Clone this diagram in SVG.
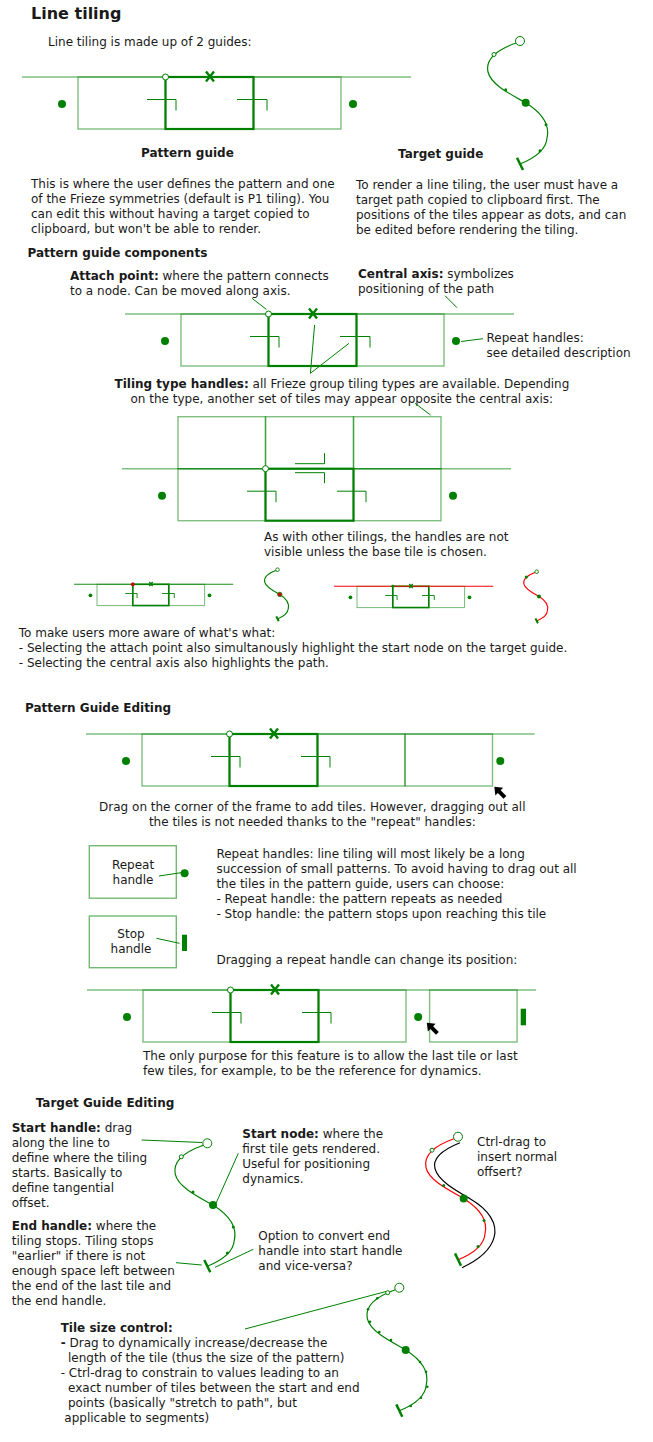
<svg xmlns="http://www.w3.org/2000/svg" xmlns:xlink="http://www.w3.org/1999/xlink" width="653" height="1442" viewBox="0 0 653 1442">
<style>
text{font-family:"DejaVu Sans","Liberation Sans",sans-serif;font-size:12px;fill:#1a1a1a}
.b{font-weight:bold}
.h1{font-size:16px;font-weight:bold}
.ax,.lt{fill:none;stroke:#008000;stroke-opacity:.5;stroke-width:1.4}
.mt{fill:none;stroke:#008000;stroke-width:2.2}
.hd{fill:none;stroke:#008000;stroke-width:1}
.dot{fill:#008000}
.ap{fill:#fff;stroke:#008000;stroke-width:1}
.xm{fill:none;stroke:#008000;stroke-width:2.4}
.tp{fill:none;stroke:#008000;stroke-width:1.2}
.eh{stroke:#008000;stroke-width:2.5}
.sc{fill:#fff;stroke:#008000;stroke-width:1}
.ld{fill:none;stroke:#008000;stroke-width:1}
.box{fill:#fff;stroke:#008000;stroke-opacity:.55;stroke-width:1.4}
.sm .ax,.sm .lt{stroke-width:2.6}
.sm .mt{stroke-width:4}
.sm .hd{stroke-width:2.2}
.sm .xm{stroke-width:3.5}
.sm .tp{stroke-width:2.8}
.sm .eh{stroke-width:5}
.sm .ap,.sm .sc{stroke-width:2.2}
</style>

<!-- Title and intro -->
<text class="h1" x="31" y="19">Line tiling</text>
<text x="48" y="46">Line tiling is made up of 2 guides:</text>

<!-- Pattern guide 1 -->
<g id="pattern-guide">
<line class="ax" x1="22" y1="77" x2="411" y2="77"/>
<rect class="lt" x="78" y="77" width="87.5" height="52"/>
<rect class="lt" x="253.5" y="77" width="87.5" height="52"/>
<rect class="mt" x="165.5" y="77" width="88" height="52"/>
<path class="hd" d="M147,99.5H176V110.5M237,99.5H267V110.5"/>
<circle class="dot" cx="62" cy="104" r="4"/>
<circle class="dot" cx="353" cy="104" r="4"/>
<circle class="ap" cx="165.5" cy="77" r="3"/>
<path class="xm" d="M206,71.5L214,81.5M214,71.5L206,81.5"/>
</g>

<!-- Target guide 1 -->
<g id="target-guide">
<path class="tp" d="M516,43 C499,49 485,58 488,72 C491,85 512,95 526,103 C542,113 550,125 547,138 C546,150 535,158 520,164"/>
<circle class="sc" cx="520" cy="41" r="4.5"/>
<circle class="sc" cx="494" cy="54.5" r="2"/>
<circle class="dot" cx="505.7" cy="89.7" r="1.5"/>
<circle class="dot" cx="525.7" cy="102.7" r="4"/>
<circle class="dot" cx="546" cy="124.7" r="1.5"/>
<circle class="dot" cx="540" cy="150.7" r="1.5"/>
<line class="eh" x1="517" y1="157.7" x2="523" y2="170"/>
</g>

<text class="b" x="141" y="157">Pattern guide</text>
<text class="b" x="398" y="158">Target guide</text>

<g id="text-pattern">
<text x="31" y="188">This is where the user defines the pattern and one</text>
<text x="31" y="203">of the Frieze symmetries (default is P1 tiling). You</text>
<text x="31" y="218">can edit this without having a target copied to</text>
<text x="31" y="233">clipboard, but won't be able to render.</text>
</g>
<g id="text-target">
<text x="356" y="189">To render a line tiling, the user must have a</text>
<text x="356" y="204">target path copied to clipboard first. The</text>
<text x="356" y="219">positions of the tiles appear as dots, and can</text>
<text x="356" y="234">be edited before rendering the tiling.</text>
</g>

<!-- Pattern guide components -->
<text class="b" x="27.5" y="257">Pattern guide components</text>
<text x="70" y="280"><tspan class="b">Attach point:</tspan> where the pattern connects</text>
<text x="70" y="295">to a node. Can be moved along axis.</text>
<text x="358" y="278"><tspan class="b">Central axis:</tspan> symbolizes</text>
<text x="358" y="293">positioning of the path</text>
<text x="486.5" y="342">Repeat handles:</text>
<text x="486.5" y="357">see detailed description</text>

<g id="pattern-components" transform="translate(103,237)">
<line class="ax" x1="22" y1="77" x2="411" y2="77"/>
<rect class="lt" x="78" y="77" width="87.5" height="52"/>
<rect class="lt" x="253.5" y="77" width="87.5" height="52"/>
<rect class="mt" x="165.5" y="77" width="88" height="52"/>
<path class="hd" d="M147,99.5H176V110.5M237,99.5H267V110.5"/>
<circle class="dot" cx="62" cy="104" r="4"/>
<circle class="dot" cx="353" cy="104" r="4"/>
<circle class="ap" cx="165.5" cy="77" r="3"/>
<path class="xm" d="M206,71.5L214,81.5M214,71.5L206,81.5"/>
</g>

<text x="114.5" y="388"><tspan class="b">Tiling type handles:</tspan> all Frieze group tiling types are available. Depending</text>
<text x="130.5" y="403">on the type, another set of tiles may appear opposite the central axis:</text>

<!-- Frieze -->
<g id="frieze" transform="translate(100,391.7)">
<rect class="lt" x="78" y="25" width="87.5" height="52"/>
<rect class="lt" x="165.5" y="25" width="88" height="52"/>
<rect class="lt" x="253.5" y="25" width="87.5" height="52"/>
<line class="ax" x1="22" y1="77" x2="411" y2="77"/>
<rect class="lt" x="78" y="77" width="87.5" height="52"/>
<rect class="lt" x="253.5" y="77" width="87.5" height="52"/>
<rect class="mt" x="165.5" y="77" width="88" height="52"/>
<path class="hd" d="M147,99.5H176V110.5M237,99.5H266V110.5"/>
<path class="hd" d="M195,72H224.5V61.5M195,81H224.5V91.5"/>
<circle class="dot" cx="62" cy="104" r="4"/>
<circle class="dot" cx="353" cy="104" r="4"/>
<circle class="ap" cx="165.5" cy="77" r="3"/>
</g>

<text x="264" y="540.5">As with other tilings, the handles are not</text>
<text x="264" y="555.5">visible unless the base tile is chosen.</text>

<!-- Small highlight diagrams -->
<g id="small-pattern-1" class="sm" transform="translate(65.1,552.8) scale(0.409)">
<line class="ax" x1="22" y1="77" x2="411" y2="77" style="stroke-opacity:.9"/>
<rect class="lt" x="78" y="77" width="87.5" height="52"/>
<rect class="lt" x="253.5" y="77" width="87.5" height="52"/>
<rect class="mt" x="165.5" y="77" width="88" height="52"/>
<path class="hd" d="M147,99.5H176V110.5M237,99.5H267V110.5"/>
<circle class="dot" cx="62" cy="104" r="4.5"/>
<circle class="dot" cx="353" cy="104" r="4.5"/>
<circle cx="165.5" cy="77" r="4" fill="#e00000" stroke="#a00000" stroke-width="1.5"/>
<path class="xm" d="M206,71.5L214,81.5M214,71.5L206,81.5"/>
</g>
<g id="small-target-1" class="sm" transform="translate(69.5,553.3) scale(0.4)">
<path class="tp" d="M516,43 C499,49 485,58 488,72 C491,85 512,95 526,103 C542,113 550,125 547,138 C546,150 535,158 520,164"/>
<circle class="sc" cx="520" cy="41" r="4.5"/>
<circle cx="525.7" cy="102.7" r="5.5" fill="#e00000" stroke="#008000" stroke-width="2"/>
<line class="eh" x1="517" y1="157.7" x2="523" y2="170"/>
</g>
<g id="small-pattern-2" class="sm" transform="translate(325.1,554.8) scale(0.409)">
<rect class="lt" x="78" y="77" width="87.5" height="52"/>
<rect class="lt" x="253.5" y="77" width="87.5" height="52"/>
<rect class="mt" x="165.5" y="77" width="88" height="52"/>
<line x1="22" y1="77" x2="411" y2="77" stroke="#ff0000" stroke-width="2.6"/>
<path class="hd" d="M147,99.5H176V110.5M237,99.5H267V110.5"/>
<circle class="dot" cx="62" cy="104" r="4.5"/>
<circle class="dot" cx="353" cy="104" r="4.5"/>
<circle class="dot" cx="165.5" cy="77" r="3.5"/>
<path class="xm" d="M206,71.5L214,81.5M214,71.5L206,81.5"/>
</g>
<g id="small-target-2" class="sm" transform="translate(328.7,555.3) scale(0.4)">
<path class="tp" style="stroke:#ff0000" d="M516,43 C499,49 485,58 488,72 C491,85 512,95 526,103 C542,113 550,125 547,138 C546,150 535,158 520,164"/>
<circle class="sc" cx="520" cy="41" r="4.5"/>
<circle class="dot" cx="494" cy="54.5" r="4"/>
<circle class="dot" cx="525.7" cy="102.7" r="5"/>
<line class="eh" x1="517" y1="157.7" x2="523" y2="170"/>
</g>

<text x="18.75" y="636.5">To make users more aware of what's what:</text>
<text x="18.75" y="651.5">- Selecting the attach point also simultanously highlight the start node on the target guide.</text>
<text x="18.75" y="666.5">- Selecting the central axis also highlights the path.</text>

<!-- Pattern Guide Editing -->
<text class="b" x="25" y="712">Pattern Guide Editing</text>
<g id="editing-1" transform="translate(64,657)">
<line class="ax" x1="22" y1="77" x2="470.7" y2="77"/>
<rect class="lt" x="78" y="77" width="87.5" height="52"/>
<rect class="lt" x="253.5" y="77" width="87.5" height="52"/>
<rect class="lt" x="341" y="77" width="87.5" height="52"/>
<rect class="mt" x="165.5" y="77" width="88" height="52"/>
<path class="hd" d="M147,99.5H176V110.5M237,99.5H266V110.5"/>
<circle class="dot" cx="62" cy="104" r="4"/>
<circle class="dot" cx="436.3" cy="104" r="4"/>
<circle class="ap" cx="165.5" cy="77" r="3"/>
<path class="xm" d="M206,71.5L214,81.5M214,71.5L206,81.5"/>
</g>
<path id="cursor-1" d="M0,0 L5.5,7 L2,7 L2,15 L-2,15 L-2,7 L-5.5,7 Z" fill="#000" transform="translate(494.3,786.7) rotate(-45)"/>

<text x="312.3" y="811" text-anchor="middle">Drag on the corner of the frame to add tiles. However, dragging out all</text>
<text x="312.3" y="826" text-anchor="middle">the tiles is not needed thanks to the "repeat" handles:</text>

<g id="repeat-box">
<rect class="box" x="89.3" y="845.7" width="87" height="52.5"/>
<text x="133" y="868.5" text-anchor="middle">Repeat</text>
<text x="133" y="883.5" text-anchor="middle">handle</text>
<circle class="dot" cx="184.6" cy="873.3" r="4"/>
</g>
<g id="stop-box">
<rect class="box" x="89.3" y="916" width="87" height="51.7"/>
<text x="131" y="938" text-anchor="middle">Stop</text>
<text x="131" y="953" text-anchor="middle">handle</text>
<rect class="dot" x="182" y="934.7" width="5" height="16.3"/>
</g>

<g id="text-repeat">
<text x="216.4" y="858">Repeat handles: line tiling will most likely be a long</text>
<text x="216.4" y="873">succession of small patterns. To avoid having to drag out all</text>
<text x="216.4" y="888">the tiles in the pattern guide, users can choose:</text>
<text x="216.4" y="903">- Repeat handle: the pattern repeats as needed</text>
<text x="216.4" y="918">- Stop handle: the pattern stops upon reaching this tile</text>
<text x="216.4" y="963.5">Dragging a repeat handle can change its position:</text>
</g>

<g id="editing-2" transform="translate(65,913)">
<line class="ax" x1="22" y1="77" x2="471" y2="77"/>
<rect class="lt" x="78" y="77" width="87.5" height="52"/>
<rect class="lt" x="253.5" y="77" width="87.5" height="52"/>
<rect class="mt" x="165.5" y="77" width="88" height="52"/>
<rect class="lt" x="364.6" y="77" width="87.5" height="52"/>
<path class="hd" d="M147,99.5H176V110.5M237,99.5H266V110.5"/>
<circle class="dot" cx="62" cy="104" r="4"/>
<circle class="dot" cx="353.2" cy="104" r="4"/>
<rect class="dot" x="455.7" y="95.7" width="5.3" height="16.6"/>
<circle class="ap" cx="165.5" cy="77" r="3"/>
<path class="xm" d="M206,71.5L214,81.5M214,71.5L206,81.5"/>
</g>
<path id="cursor-2" d="M0,0 L5.5,7 L2,7 L2,15 L-2,15 L-2,7 L-5.5,7 Z" fill="#000" transform="translate(426.8,1022.7) rotate(-45)"/>

<text x="143" y="1059.5">The only purpose for this feature is to allow the last tile or last</text>
<text x="143" y="1074.5">few tiles, for example, to be the reference for dynamics.</text>

<!-- Target Guide Editing -->
<text class="b" x="35.7" y="1107">Target Guide Editing</text>
<g id="text-start-handle">
<text x="11.7" y="1132"><tspan class="b">Start handle:</tspan> drag</text>
<text x="11.7" y="1147">along the line to</text>
<text x="11.7" y="1162">define where the tiling</text>
<text x="11.7" y="1177">starts. Basically to</text>
<text x="11.7" y="1192">define tangential</text>
<text x="11.7" y="1207">offset.</text>
</g>
<g id="text-end-handle">
<text x="11.7" y="1229.5"><tspan class="b">End handle:</tspan> where the</text>
<text x="11.7" y="1244.5">tiling stops. Tiling stops</text>
<text x="11.7" y="1259.5">"earlier" if there is not</text>
<text x="11.7" y="1274.5">enough space left between</text>
<text x="11.7" y="1289.5">the end of the last tile and</text>
<text x="11.7" y="1304.5">the end handle.</text>
</g>
<g id="text-start-node">
<text x="242.3" y="1138"><tspan class="b">Start node:</tspan> where the</text>
<text x="242.3" y="1153">first tile gets rendered.</text>
<text x="242.3" y="1168">Useful for positioning</text>
<text x="242.3" y="1183">dynamics.</text>
</g>
<g id="text-option">
<text x="258.3" y="1239.5">Option to convert end</text>
<text x="258.3" y="1254.5">handle into start handle</text>
<text x="258.3" y="1269.5">and vice-versa?</text>
</g>
<g id="text-ctrl">
<text x="477" y="1146">Ctrl-drag to</text>
<text x="477" y="1161">insert normal</text>
<text x="477" y="1176">offsert?</text>
</g>

<g id="target-edit" transform="translate(-312.7,1102.3)">
<path class="tp" d="M516,43 C499,49 485,58 488,72 C491,85 512,95 526,103 C542,113 550,125 547,138 C546,150 535,158 520,164"/>
<circle class="sc" cx="520" cy="41" r="4.5"/>
<circle class="sc" cx="494" cy="54.5" r="2"/>
<circle class="dot" cx="505.7" cy="89.7" r="1.5"/>
<circle class="dot" cx="525.7" cy="102.7" r="4"/>
<circle class="dot" cx="546" cy="124.7" r="1.5"/>
<circle class="dot" cx="540" cy="150.7" r="1.5"/>
<line class="eh" x1="517" y1="157.7" x2="523" y2="170"/>
</g>

<g id="target-offset" transform="translate(-62,1095.7)">
<path fill="none" stroke="#000" stroke-width="1.2" d="M522,47 C507,53 494,62 497,73 C500,85 518,95 532,103 C551,114 560,128 556,142 C552,156 537,166 524,172"/>
<path class="tp" style="stroke:#ff0000" d="M516,43 C499,49 485,58 488,72 C491,85 512,95 526,103 C542,113 550,125 547,138 C546,150 535,158 520,164"/>
<circle class="sc" cx="520" cy="41" r="4.5"/>
<circle class="sc" cx="494" cy="54.5" r="2"/>
<circle class="dot" cx="505.7" cy="89.7" r="1.5"/>
<circle class="dot" cx="525.7" cy="102.7" r="4"/>
<circle class="dot" cx="546" cy="124.7" r="1.5"/>
<circle class="dot" cx="540" cy="150.7" r="1.5"/>
<line class="eh" x1="517" y1="157.7" x2="523" y2="170"/>
</g>

<g id="target-tilesize">
<g transform="translate(-120.7,1246.7)">
<path class="tp" d="M516,43 C499,49 485,58 488,72 C491,85 512,95 526,103 C542,113 550,125 547,138 C546,150 535,158 520,164"/>
<circle class="sc" cx="520" cy="41" r="4.5"/>
<line class="eh" x1="517" y1="157.7" x2="523" y2="170"/>
</g>
<circle class="sc" cx="387.7" cy="1292.7" r="2"/>
<circle class="dot" cx="377.3" cy="1298.3" r="1.3"/>
<circle class="dot" cx="368" cy="1309.3" r="1.3"/>
<circle class="dot" cx="370" cy="1321.7" r="1.3"/>
<circle class="dot" cx="379.3" cy="1332" r="1.3"/>
<circle class="dot" cx="391" cy="1340" r="1.3"/>
<circle class="dot" cx="405.7" cy="1350" r="4"/>
<circle class="dot" cx="420" cy="1362" r="1.3"/>
<circle class="dot" cx="426" cy="1371.7" r="1.3"/>
<circle class="dot" cx="427.3" cy="1386.7" r="1.3"/>
<circle class="dot" cx="421" cy="1397.7" r="1.3"/>
<circle class="dot" cx="410.7" cy="1406" r="1.3"/>
</g>

<g id="text-tilesize">
<text class="b" x="60.7" y="1332">Tile size control:</text>
<text x="60.7" y="1347"><tspan class="b">-</tspan> Drag to dynamically increase/decrease the</text>
<text x="68" y="1362">length of the tile (thus the size of the pattern)</text>
<text x="60.7" y="1377">- Ctrl-drag to constrain to values leading to an</text>
<text x="68" y="1392">exact number of tiles between the start and end</text>
<text x="68" y="1407">points (basically "stretch to path", but</text>
<text x="64.3" y="1422">applicable to segments)</text>
</g>

<!-- Connectors / leaders -->
<g id="connectors">
<line class="ld" x1="252" y1="298.3" x2="266.5" y2="309.5"/>
<line class="ld" x1="445" y1="295.7" x2="457" y2="307.7"/>
<line class="ld" x1="461" y1="341.5" x2="483" y2="338.7"/>
<polyline class="ld" points="314.6,325 310.4,373.3 349,343.3"/>
<line class="ld" x1="415" y1="403.3" x2="430.5" y2="415"/>
<line class="ld" x1="159" y1="876" x2="181" y2="872.7"/>
<line class="ld" x1="156.4" y1="938.3" x2="179.5" y2="943.3"/>
<line class="ld" x1="141.7" y1="1140" x2="202" y2="1142.5"/>
<line class="ld" x1="216" y1="1203.3" x2="238.3" y2="1153.3"/>
<line class="ld" x1="176" y1="1262.7" x2="201.7" y2="1265"/>
<line class="ld" x1="215" y1="1267.3" x2="253.3" y2="1249.3"/>
<line class="ld" x1="245" y1="1329" x2="386" y2="1291.5"/>
</g>
</svg>
